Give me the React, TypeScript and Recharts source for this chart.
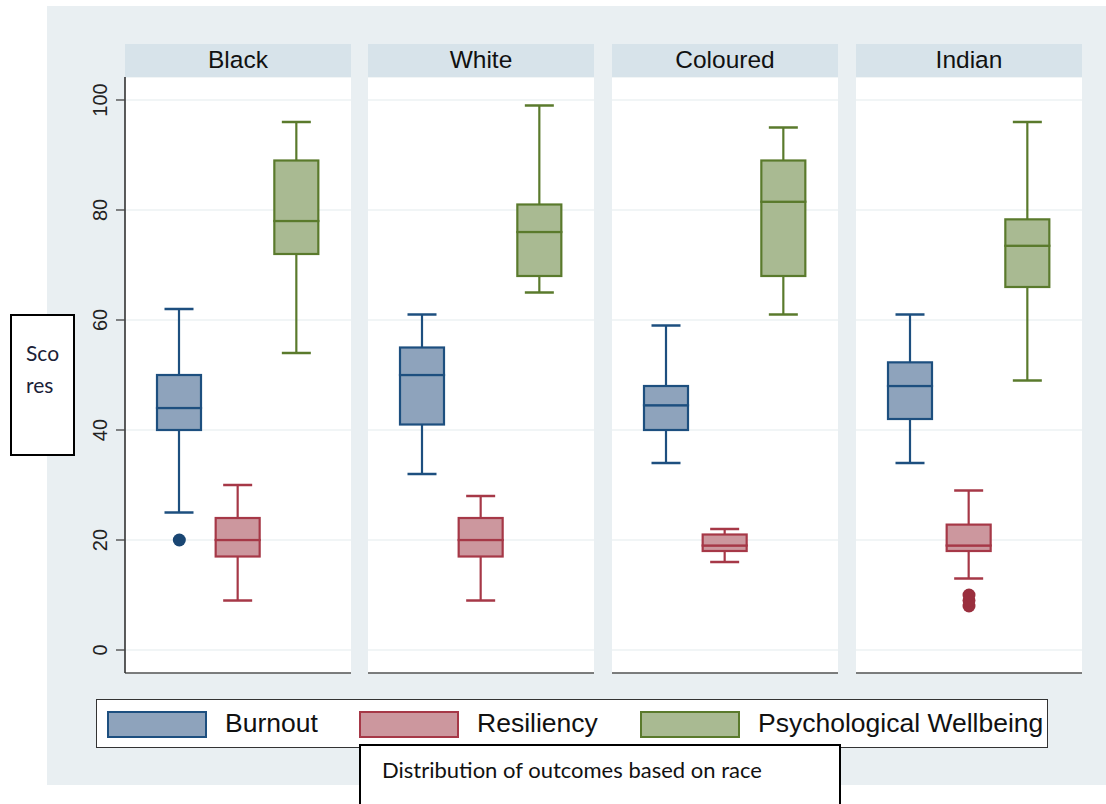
import React from 'react';
import { ComposedChart, Bar, Scatter, XAxis, YAxis, CartesianGrid } from 'recharts';

// Panels (one per race group) and the three outcome measures
const races = ['Black', 'White', 'Coloured', 'Indian'];
const measures = ['Burnout', 'Resiliency', 'Psychological Wellbeing'];

// Five-number summaries per race: [min whisker, Q1, median, Q3, max whisker]
const burnoutStats = [
  [25, 40, 44, 50, 62],
  [32, 41, 50, 55, 61],
  [34, 40, 44.5, 48, 59],
  [34, 42, 48, 52.3, 61],
];
const resiliencyStats = [
  [9, 17, 20, 24, 30],
  [9, 17, 20, 24, 28],
  [16, 18, 19, 21, 22],
  [13, 18, 19, 22.8, 29],
];
const wellbeingStats = [
  [54, 72, 78, 89, 96],
  [65, 68, 76, 81, 99],
  [61, 68, 81.5, 89, 95],
  [49, 66, 73.5, 78.3, 96],
];

// Outside values per race
const burnoutOutliers = [[20], [], [], []];
const resiliencyOutliers = [[], [], [], [8, 9, 10]];
const wellbeingOutliers = [[], [], [], []];

const yTicks = [0, 20, 40, 60, 80, 100];

const palette: Record<string, { fill: string; stroke: string; dot: string }> = {
  Burnout: { fill: '#8ea3bc', stroke: '#1d4f7f', dot: '#1a4673' },
  Resiliency: { fill: '#cc979e', stroke: '#a63847', dot: '#9a2f3e' },
  'Psychological Wellbeing': { fill: '#a9ba92', stroke: '#5a7a2c', dot: '#5a7a2c' },
};

const statsByMeasure = [burnoutStats, resiliencyStats, wellbeingStats];
const outliersByMeasure = [burnoutOutliers, resiliencyOutliers, wellbeingOutliers];

const buildRows = (raceIndex: number) =>
  measures.map((name, m) => {
    const [lo, q1, med, q3, hi] = statsByMeasure[m][raceIndex];
    return {
      name,
      base: lo,
      lowWhisker: q1 - lo,
      lowBox: med - q1,
      highBox: q3 - med,
      highWhisker: hi - q3,
    };
  });

const buildOutliers = (raceIndex: number) =>
  measures.flatMap((name, m) => outliersByMeasure[m][raceIndex].map((value) => ({ name, value })));

const STATA_FONT = '"Liberation Sans", Arial, Helvetica, sans-serif';
const NOTE_FONT = 'Lato, "Open Sans", sans-serif';

const BG = '#e9eff2';
const STRIP = '#d7e3ea';
const LINE_W = 2.2;

const EmptyShape = () => <g />;

const makeWhisker = (end: 'low' | 'high') => (props: any) => {
  const { x, y, width, height, payload } = props;
  const c = palette[payload.name];
  const cx = x + width / 2;
  const top = Math.min(y, y + height);
  const bottom = Math.max(y, y + height);
  const capY = end === 'high' ? top : bottom;
  const capHalf = 14.5;
  return (
    <g>
      <line x1={cx} x2={cx} y1={top} y2={bottom} stroke={c.stroke} strokeWidth={LINE_W} />
      <line x1={cx - capHalf} x2={cx + capHalf} y1={capY} y2={capY} stroke={c.stroke} strokeWidth={LINE_W + 0.3} />
    </g>
  );
};

const BoxShape = (props: any) => {
  const { x, y, width, height, payload } = props;
  const c = palette[payload.name];
  const top = Math.min(y, y + height);
  const h = Math.abs(height);
  return <rect x={x} y={top} width={width} height={h} fill={c.fill} stroke={c.stroke} strokeWidth={LINE_W} />;
};

const OutlierDot = (props: any) => {
  const { cx, cy, payload } = props;
  const c = palette[payload.name];
  return <circle cx={cx} cy={cy} r={6.5} fill={c.dot} />;
};

const YTick = (props: any) => {
  const { x, y, payload } = props;
  const bx = x - 7;
  return (
    <text
      x={bx}
      y={y}
      transform={`rotate(-90, ${bx}, ${y})`}
      textAnchor="middle"
      fontFamily={STATA_FONT}
      fontSize={20}
      fill="#222"
    >
      {payload.value}
    </text>
  );
};

const PLOT_TOP = 77;
const PLOT_H = 596;
const PANEL_W = 226;
const panelLefts = [125, 368, 612, 856];
const Y_AXIS_W = 78;
const Y_DOMAIN: [number, number] = [-4.18, 104.18];

const Panel = ({ raceIndex }: { raceIndex: number }) => {
  const withAxis = raceIndex === 0;
  const left = panelLefts[raceIndex] - (withAxis ? Y_AXIS_W : 0);
  const width = PANEL_W + (withAxis ? Y_AXIS_W : 0);
  const rows = buildRows(raceIndex);
  const outliers = buildOutliers(raceIndex);
  return (
    <>
      {/* panel strip */}
      <div
        style={{
          position: 'absolute',
          left: panelLefts[raceIndex],
          top: 44,
          width: PANEL_W,
          height: 33,
          background: STRIP,
          fontFamily: STATA_FONT,
          fontSize: 24.5,
          color: '#111',
          textAlign: 'center',
          lineHeight: '31px',
        }}
      >
        {races[raceIndex]}
      </div>
      {/* plot region */}
      <div
        style={{
          position: 'absolute',
          left: panelLefts[raceIndex],
          top: PLOT_TOP,
          width: PANEL_W,
          height: PLOT_H,
          background: '#fff',
        }}
      />
      <div style={{ position: 'absolute', left, top: PLOT_TOP }}>
        <ComposedChart
          width={width}
          height={PLOT_H + 1}
          data={rows}
          margin={{ top: 0, right: 0, bottom: 0, left: 0 }}
        >
          <CartesianGrid vertical={false} stroke="#e3ebee" strokeWidth={1.2} />
          <XAxis
            dataKey="name"
            type="category"
            allowDuplicatedCategory={false}
            tick={false}
            tickLine={false}
            height={1}
            axisLine={{ stroke: '#555', strokeWidth: 1.6 }}
            padding={{ left: 25, right: 25 }}
          />
          <YAxis
            hide={!withAxis}
            width={Y_AXIS_W}
            type="number"
            domain={Y_DOMAIN}
            allowDataOverflow
            ticks={yTicks}
            interval={0}
            tickSize={9}
            tick={<YTick />}
            tickLine={{ stroke: '#444', strokeWidth: 1.3 }}
            axisLine={{ stroke: '#333', strokeWidth: 1.6 }}
          />
          <Bar dataKey="base" stackId="box" barSize={44} shape={EmptyShape} isAnimationActive={false} />
          <Bar dataKey="lowWhisker" stackId="box" barSize={44} shape={makeWhisker('low')} isAnimationActive={false} />
          <Bar dataKey="lowBox" stackId="box" barSize={44} shape={BoxShape} isAnimationActive={false} />
          <Bar dataKey="highBox" stackId="box" barSize={44} shape={BoxShape} isAnimationActive={false} />
          <Bar dataKey="highWhisker" stackId="box" barSize={44} shape={makeWhisker('high')} isAnimationActive={false} />
          {outliers.length > 0 && (
            <Scatter data={outliers} dataKey="value" shape={OutlierDot} isAnimationActive={false} />
          )}
        </ComposedChart>
      </div>
    </>
  );
};

const legendItems = [
  { name: 'Burnout', swatchX: 107, textX: 225 },
  { name: 'Resiliency', swatchX: 359, textX: 477 },
  { name: 'Psychological Wellbeing', swatchX: 640, textX: 758 },
];

export default function App() {
  return (
    <div style={{ position: 'absolute', left: 0, top: 0, width: 1106, height: 804, background: '#fff', overflow: 'hidden' }}>
      {/* graph region */}
      <div style={{ position: 'absolute', left: 47, top: 6, width: 1059, height: 779, background: BG }} />

      {races.map((_, i) => (
        <Panel key={i} raceIndex={i} />
      ))}

      {/* legend */}
      <div
        style={{
          position: 'absolute',
          left: 96,
          top: 699,
          width: 950,
          height: 47,
          background: '#fff',
          border: '1.5px solid #333',
        }}
      />
      {legendItems.map((item) => (
        <React.Fragment key={item.name}>
          <div
            style={{
              position: 'absolute',
              left: item.swatchX,
              top: 711,
              width: 96,
              height: 23,
              background: palette[item.name].fill,
              border: `2.5px solid ${palette[item.name].stroke}`,
            }}
          />
          <div
            style={{
              position: 'absolute',
              left: item.textX,
              top: 707,
              fontFamily: STATA_FONT,
              fontSize: 26.5,
              lineHeight: '32px',
              color: '#111',
              whiteSpace: 'nowrap',
            }}
          >
            {item.name}
          </div>
        </React.Fragment>
      ))}

      {/* y-axis title box */}
      <div
        style={{
          position: 'absolute',
          left: 10,
          top: 314,
          width: 61,
          height: 138,
          background: '#fff',
          border: '2.5px solid #000',
          fontFamily: NOTE_FONT,
          fontSize: 21,
          color: '#1b2238',
        }}
      >
        <div style={{ position: 'absolute', left: 14, top: 21, lineHeight: '32px' }}>
          Sco
          <br />
          res
        </div>
      </div>

      {/* caption box */}
      <div
        style={{
          position: 'absolute',
          left: 359,
          top: 744,
          width: 478,
          height: 90,
          background: '#fff',
          border: '2px solid #000',
          fontFamily: NOTE_FONT,
          fontSize: 22,
          color: '#111',
        }}
      >
        <div style={{ position: 'absolute', left: 21, top: 10, whiteSpace: 'nowrap' }}>
          Distribution of outcomes based on race
        </div>
      </div>
    </div>
  );
}
